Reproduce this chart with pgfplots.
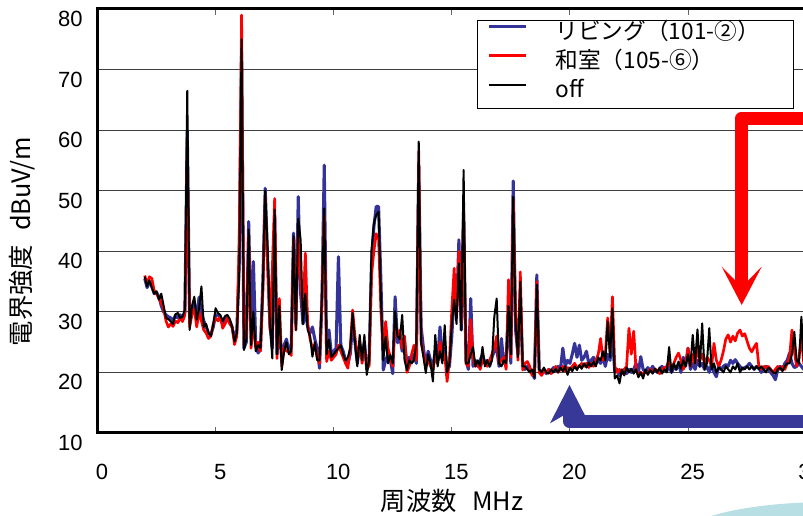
\documentclass[border=0pt]{standalone}
\usepackage{pgfplots}
\pgfplotsset{compat=1.18}
\usepackage{pgfplotstable}
\usepackage{fontspec}
\setmainfont{Liberation Sans}
\newfontfamily\cjk{Noto Sans CJK JP}
\definecolor{seriesblue}{RGB}{51,51,153}
\definecolor{arrowblue}{RGB}{56,56,152}
\definecolor{seablue}{RGB}{184,224,228}

% field strength (dBuV/m) against frequency (MHz): b = living room, r = Japanese room, k = off
\pgfplotstableread{
x b r k
2.0 35.5 36.0 35.8
2.1 34.0 34.6 34.2
2.2 35.0 35.8 35.2
2.3 34.2 35.5 34.0
2.4 33.0 33.5 33.0
2.5 33.2 33.0 33.4
2.6 32.5 32.2 32.0
2.7 31.0 31.5 33.0
2.8 30.0 30.5 31.0
2.9 29.5 28.5 29.0
3.0 29.2 27.5 28.8
3.1 29.0 28.0 28.4
3.2 28.6 27.6 28.0
3.3 29.4 28.5 29.6
3.4 29.0 28.2 29.8
3.5 29.5 29.0 29.0
3.6 29.0 28.4 29.2
3.7 30.0 29.5 30.4
3.8 60.0 58.0 66.5
3.9 28.5 27.5 27.0
4.0 30.5 29.5 31.0
4.1 31.5 30.5 32.5
4.2 29.0 27.5 28.7
4.3 32.4 30.0 30.5
4.4 30.0 28.5 34.2
4.5 28.5 27.0 27.5
4.6 27.5 26.5 28.0
4.7 26.5 25.6 26.5
4.8 26.2 26.0 26.0
4.9 27.5 28.0 27.9
5.0 29.5 29.0 30.6
5.1 29.5 28.5 29.8
5.2 29.0 29.2 29.5
5.3 28.0 27.3 28.5
5.4 28.8 28.0 29.3
5.5 29.2 29.0 29.5
5.6 28.5 28.0 28.8
5.7 27.5 27.5 27.5
5.8 25.5 24.6 25.1
5.9 27.0 26.0 26.5
6.0 38.0 42.0 36.0
6.1 73.0 79.0 75.0
6.2 24.0 24.5 23.7
6.3 25.0 26.0 25.5
6.4 44.9 42.5 43.6
6.5 27.0 24.0 24.5
6.6 38.3 28.0 30.0
6.7 24.5 24.0 23.5
6.8 23.2 25.0 24.5
6.9 24.0 23.5 24.0
7.0 35.0 33.0 34.0
7.1 50.4 49.0 50.0
7.2 39.0 38.0 40.5
7.3 28.0 27.0 28.1
7.4 24.0 37.0 22.3
7.5 46.0 48.7 46.9
7.6 23.0 22.3 23.0
7.7 28.0 32.2 31.0
7.8 22.0 21.0 20.4
7.9 24.5 24.0 23.5
8.0 25.5 23.5 25.0
8.1 23.5 23.5 23.0
8.2 24.0 22.8 23.5
8.3 43.0 42.0 42.5
8.4 28.0 27.0 27.0
8.5 49.0 44.0 45.4
8.6 33.0 36.0 41.9
8.7 28.0 30.0 28.0
8.8 30.0 39.7 33.0
8.9 27.5 28.0 27.0
9.0 26.5 25.5 26.0
9.1 27.5 24.0 22.6
9.2 25.5 24.5 25.0
9.3 24.0 22.5 22.0
9.4 20.7 21.5 22.0
9.5 31.5 32.0 32.5
9.6 54.2 46.0 47.1
9.7 23.5 21.8 23.0
9.8 27.0 23.5 25.4
9.9 23.0 22.0 22.5
10.0 23.5 22.5 23.0
10.1 24.0 23.0 23.5
10.2 39.1 24.5 24.0
10.3 24.5 23.5 24.5
10.4 23.5 22.5 23.0
10.5 22.0 21.5 22.0
10.6 21.5 20.7 22.5
10.7 23.0 24.0 24.0
10.8 28.0 30.3 29.8
10.9 25.0 26.0 25.0
11.0 21.5 22.0 21.0
11.1 24.5 25.0 26.2
11.2 22.5 21.5 22.0
11.3 25.0 24.0 26.2
11.4 20.5 21.5 19.6
11.5 22.0 21.0 22.0
11.6 38.0 36.0 40.2
11.7 44.0 40.0 44.6
11.8 47.4 42.9 46.0
11.9 47.4 42.0 46.5
12.0 35.0 30.0 32.0
12.1 20.4 24.0 22.0
12.2 22.0 28.4 25.9
12.3 23.0 24.0 21.5
12.4 22.0 22.5 22.9
12.5 19.8 21.0 21.5
12.6 32.5 28.0 30.1
12.7 24.9 26.0 26.0
12.8 26.0 27.0 25.5
12.9 23.5 24.0 29.5
13.0 25.0 26.0 22.0
13.1 21.5 20.0 20.4
13.2 22.5 21.0 22.0
13.3 22.0 23.0 21.5
13.4 23.0 24.5 22.0
13.5 21.5 22.0 24.8
13.6 54.0 56.5 58.1
13.7 27.5 25.0 25.0
13.8 24.0 23.0 22.5
13.9 21.0 21.5 19.9
14.0 23.5 22.0 23.0
14.1 22.0 21.0 21.5
14.2 21.0 20.5 18.5
14.3 23.5 22.5 26.2
14.4 22.0 21.5 21.0
14.5 27.5 25.0 23.5
14.6 22.5 22.0 21.5
14.7 24.0 23.0 27.8
14.8 20.5 18.5 20.0
14.9 21.0 22.0 21.5
15.0 26.0 30.3 28.0
15.1 33.0 37.2 32.0
15.2 30.0 29.0 28.0
15.3 41.9 40.0 38.0
15.4 27.0 28.0 27.0
15.5 46.0 47.0 53.4
15.6 22.0 21.5 21.5
15.7 20.5 21.0 21.5
15.8 32.2 28.7 23.0
15.9 21.0 22.5 24.2
16.0 22.0 21.0 21.0
16.1 21.0 21.5 22.0
16.2 22.0 20.5 21.0
16.3 23.0 22.0 24.2
16.4 21.5 21.5 21.0
16.5 22.0 21.0 22.0
16.6 21.0 22.0 21.0
16.7 22.5 23.0 22.0
16.8 23.5 24.0 29.2
16.9 24.0 26.0 32.2
17.0 21.0 21.5 21.5
17.1 25.6 22.0 21.0
17.2 21.5 22.5 22.0
17.3 22.0 20.5 21.5
17.4 30.0 35.3 31.0
17.5 21.5 22.5 23.0
17.6 51.6 48.5 49.0
17.7 27.0 30.0 28.5
17.8 23.0 22.0 22.5
17.9 33.0 36.6 35.0
18.0 21.0 20.4 21.0
18.1 20.5 21.5 21.0
18.2 21.0 21.8 20.5
18.3 20.5 21.0 20.0
18.4 20.0 19.5 20.5
18.5 19.0 20.0 19.2
18.6 36.1 35.0 34.5
18.7 20.5 20.0 20.5
18.8 20.0 19.5 20.0
18.9 20.5 20.2 20.8
19.0 19.8 20.0 20.0
19.1 20.5 20.5 19.8
19.2 20.0 19.8 20.5
19.3 20.8 20.2 20.0
19.4 20.2 21.0 20.6
19.5 21.0 20.0 20.0
19.6 20.5 20.5 20.8
19.7 24.0 21.0 20.2
19.8 21.0 20.2 21.0
19.9 22.0 20.8 19.6
20.0 21.5 20.5 20.8
20.1 23.0 21.0 20.2
20.2 24.8 21.5 21.0
20.3 22.5 20.8 20.4
20.4 24.5 21.0 21.2
20.5 22.0 21.5 20.6
20.6 22.5 21.0 21.5
20.7 23.5 21.5 20.8
20.8 21.5 20.8 21.6
20.9 22.0 21.5 21.0
21.0 22.5 21.0 21.8
21.1 21.5 22.0 21.0
21.2 22.0 23.0 22.5
21.3 21.5 25.6 22.0
21.4 22.5 22.0 23.5
21.5 21.0 23.0 22.0
21.6 23.0 29.0 28.4
21.7 22.0 23.5 22.5
21.8 26.0 32.5 30.6
21.9 20.0 21.0 19.0
22.0 20.5 20.0 19.5
22.1 19.5 20.5 18.2
22.2 20.0 19.8 20.5
22.3 20.5 20.5 19.5
22.4 19.8 21.0 20.8
22.5 20.5 27.3 20.0
22.6 20.0 23.0 20.6
22.7 20.5 26.8 19.8
22.8 21.5 20.5 20.5
22.9 20.0 19.5 19.2
23.0 22.6 20.0 20.0
23.1 20.5 19.6 19.0
23.2 20.0 20.2 20.5
23.3 20.8 19.8 19.6
23.4 20.2 20.5 20.4
23.5 21.0 20.0 19.8
23.6 20.4 20.6 20.6
23.7 20.0 20.2 20.0
23.8 20.6 19.8 20.8
23.9 21.0 20.5 19.8
24.0 20.5 20.8 20.5
24.1 20.2 21.0 20.0
24.2 21.0 22.0 24.2
24.3 20.0 20.5 20.0
24.4 20.8 21.5 21.5
24.5 20.5 22.5 20.5
24.6 21.5 23.2 21.8
24.7 20.0 22.0 20.6
24.8 22.5 20.5 22.0
24.9 21.0 21.5 21.0
25.0 24.0 24.0 23.0
25.1 20.5 21.0 21.0
25.2 21.5 23.0 26.2
25.3 20.5 21.5 21.5
25.4 22.0 24.0 27.1
25.5 21.0 22.0 21.0
25.6 21.5 23.0 28.1
25.7 20.5 21.5 20.5
25.8 21.0 22.5 21.5
25.9 20.0 22.0 27.3
26.0 21.5 21.0 20.5
26.1 20.0 24.8 21.5
26.2 19.3 22.0 20.0
26.3 21.0 21.0 20.8
26.4 20.5 22.0 20.5
26.5 21.0 23.5 20.0
26.6 21.3 25.5 21.0
26.7 21.0 26.2 20.5
26.8 22.0 25.0 20.0
26.9 21.5 26.0 21.0
27.0 22.1 25.2 20.5
27.1 21.5 26.5 21.5
27.2 21.0 27.0 20.0
27.3 20.5 26.0 20.8
27.4 20.8 26.4 20.5
27.5 21.0 25.2 21.0
27.6 21.5 24.0 20.5
27.7 21.0 23.4 21.0
27.8 20.5 24.2 20.5
27.9 21.0 24.8 21.0
28.0 20.8 21.0 20.5
28.1 20.0 20.5 21.0
28.2 20.5 21.0 20.5
28.3 21.0 20.8 20.0
28.4 20.5 21.0 20.8
28.5 20.0 20.5 20.5
28.6 19.5 20.0 20.0
28.7 18.8 20.5 19.8
28.8 20.5 21.0 20.5
28.9 21.0 20.5 20.8
29.0 20.5 21.0 20.2
29.1 21.5 20.5 21.0
29.2 22.0 21.5 21.5
29.3 23.2 22.5 21.5
29.4 21.5 27.0 23.0
29.5 20.8 23.5 26.7
29.6 21.0 21.0 22.0
29.7 21.5 22.5 21.5
29.8 21.0 26.0 29.2
29.9 20.5 21.5 22.0
30.0 21.0 21.0 21.5
}\fielddata

\begin{document}
\begin{tikzpicture}
\begin{scope}
\clip (0pt,0pt) rectangle (602.25pt,387pt);

% pale backdrop shape in the lower right corner
\begin{scope}[x=0.75pt, y=-0.75pt, shift={(0pt,387pt)}]
  \fill[seablue] (830,538) ellipse [x radius=150, y radius=36];
\end{scope}

\begin{axis}[
  at={(73.125pt,62.25pt)}, anchor=south west,
  scale only axis, width=531.45pt, height=318pt,
  xmin=0, xmax=30, ymin=10, ymax=80,
  xtick={0,5,...,30}, ytick={10,20,...,80},
  ymajorgrids,
  grid style={black!75, line width=0.75pt},
  axis line style={line width=2.25pt},
  tick align=inside,
  major tick length=4.5pt,
  x tick style={black!60, line width=0.75pt},
  y tick style={draw=none},
  /pgf/number format/assume math mode=true,
  tick label style={font=\fontsize{16.5}{18}\selectfont},
  xticklabel style={anchor=north, inner sep=0pt, yshift=-23.25pt, xshift=3.4pt},
  yticklabel style={anchor=east, inner sep=0pt, xshift=-10.9pt, yshift=-7.5pt},
  legend style={at={(rel axis cs:0.5356,0.974)}, anchor=north west,
    draw=black, line width=0.75pt, fill=white,
    inner xsep=7.5pt, inner ysep=0.4pt, row sep=0pt,
    font={\cjk\fontsize{17}{17}\selectfont},
    nodes={inner sep=0pt, text height=14.1pt, text depth=7.6pt},
    /tikz/column 1/.style={column sep=21pt}},
  legend cell align=left,
  legend image code/.code={\draw[#1] (0pt,6.5pt) -- (27.75pt,6.5pt);},
]
\addplot[seriesblue, line width=2.3pt, line join=round] table[x=x, y=b] {\fielddata};
\addlegendentry{\makebox[171pt][l]{リビング（101-②）}}
\addplot[red, line width=2.0pt, line join=round] table[x=x, y=r] {\fielddata};
\addlegendentry{\makebox[171pt][l]{和室（105-⑥）}}
\addplot[black, line width=1.5pt, line join=round] table[x=x, y=k] {\fielddata};
\addlegendentry{\makebox[171pt][l]{off}}
\end{axis}

% call-out arrows and axis titles, placed in pixel units from the top left
\begin{scope}[x=0.75pt, y=-0.75pt, shift={(0pt,387pt)}]
  \draw[red, line width=10pt, line join=round] (830,118.3) -- (741.7,118.3) -- (741.7,290);
  \fill[red] (741.7,305) -- (721.7,266.7) -- (741.7,287) -- (761.7,266.7) -- cycle;
  \draw[arrowblue, line width=9.75pt, line join=round] (830,421.5) -- (569.5,421.5) -- (569.5,410);
  \fill[arrowblue] (569.5,385) -- (550,423.3) -- (569.5,412) -- (589,423.3) -- cycle;
  \node[font={\cjk\fontsize{19}{19}\selectfont}, anchor=base, inner sep=0pt] at (452,511)
    {周波数\hspace{0.6em}MHz};
  \node[font={\cjk\fontsize{19}{19}\selectfont}, anchor=base, rotate=90, inner sep=0pt] at (31,241.5)
    {電界強度\hspace{0.55em}dBuV/m};
\end{scope}
\end{scope}
\pgfresetboundingbox
\useasboundingbox (0pt,0pt) rectangle (602.25pt,387pt);
\end{tikzpicture}
\end{document}
